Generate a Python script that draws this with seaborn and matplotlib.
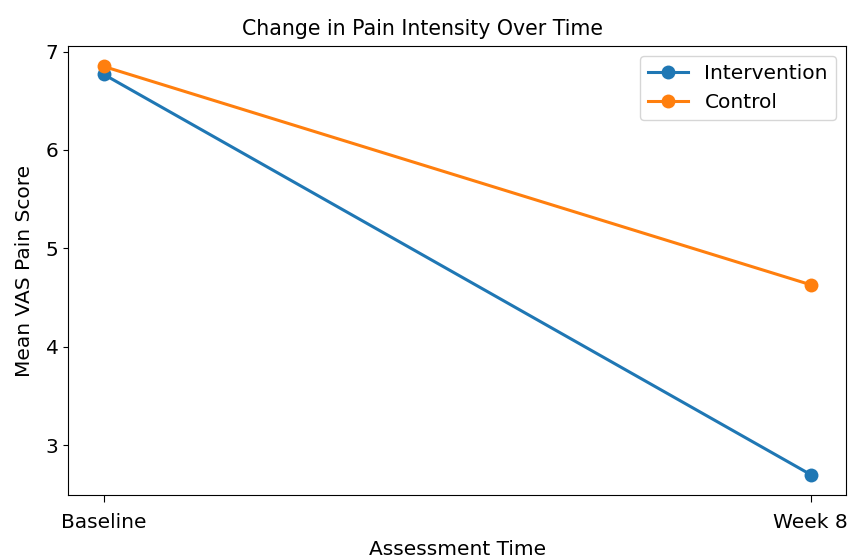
import matplotlib
matplotlib.use("Agg")
import matplotlib.pyplot as plt
import seaborn as sns
import pandas as pd

time_points = ["Baseline", "Week 8"]
intervention = [6.77, 2.70]
control = [6.85, 4.63]
groups = ["Intervention", "Control"]

df = pd.DataFrame({
    "Time": time_points * 2,
    "Score": intervention + control,
    "Group": [groups[0]] * 2 + [groups[1]] * 2,
})

plt.rcParams["font.family"] = ["DejaVu Sans"]
plt.rcParams["font.size"] = 14.5

fig, ax = plt.subplots(figsize=(8.52, 5.58), dpi=100)
sns.lineplot(data=df, x="Time", y="Score", hue="Group", marker="o",
             markersize=10, markeredgewidth=0, linewidth=2.2,
             palette=["#1f77b4", "#ff7f0e"], ax=ax)
ax.set_title("Change in Pain Intensity Over Time", fontsize=14.8, pad=8, x=0.455)
ax.set_xlabel("Assessment Time", fontsize=14.5, labelpad=6)
ax.set_ylabel("Mean VAS Pain Score", fontsize=14.5, labelpad=8)
ax.tick_params(labelsize=14.5)
ax.tick_params(axis="x", pad=8, length=5)
ax.set_yticks([3, 4, 5, 6, 7])
ax.margins(x=0.05)
ax.legend(title=None, loc="upper right", fontsize=14.5)
fig.subplots_adjust(left=0.080, right=0.993, top=0.9176, bottom=0.1129)
fig.savefig("out.png", dpi=100)
